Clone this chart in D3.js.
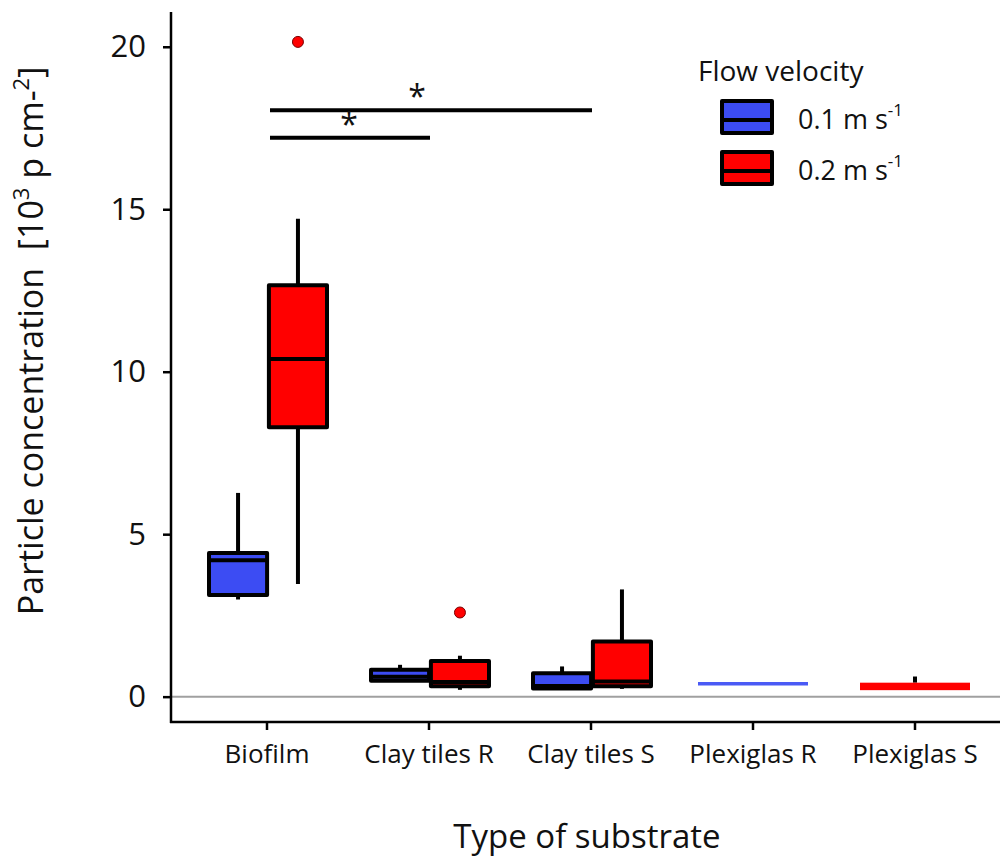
<!DOCTYPE html>
<html>
<head>
<meta charset="utf-8">
<script src="https://cdn.jsdelivr.net/npm/d3@7"></script>
<style>
  html, body { margin: 0; padding: 0; background: #fff; }
  svg { display: block; font-family: "Open Sans", sans-serif; }
  svg text { font-family: "Open Sans", sans-serif; white-space: pre; }
</style>
</head>
<body>
<svg id="chart" width="1000" height="859"></svg>
<script>
// ---- data ----
const categories = ["Biofilm", "Clay tiles R", "Clay tiles S", "Plexiglas R", "Plexiglas S"];
const groups = ["0.1", "0.2"];
const yTicks = [0, 5, 10, 15, 20];
// [whiskerLow, q1, median, q3, whiskerHigh]; null = group absent
const slowBoxes = [
  [2.99, 3.13, 4.20, 4.42, 6.27],
  [0.49, 0.49, 0.61, 0.83, 0.98],
  [0.25, 0.25, 0.33, 0.72, 0.93],
  [0.40, 0.40, 0.40, 0.40, 0.40],
  null
];
const fastBoxes = [
  [3.47, 8.29, 10.39, 12.66, 14.71],
  [0.21, 0.32, 0.45, 1.10, 1.26],
  [0.24, 0.32, 0.47, 1.70, 3.30],
  null,
  [0.20, 0.20, 0.30, 0.43, 0.62]
];
const slowOutliers = [[], [], [], [], []];
const fastOutliers = [[20.15], [2.59], [], [], []];
const sigBrackets = [
  { from: "Biofilm", to: "Clay tiles S", y: 18.05 },
  { from: "Biofilm", to: "Clay tiles R", y: 17.2 }
];
const colors = { "0.1": "#3c4cf3", "0.2": "#ff0000" };
const flatOnly = ["Plexiglas R", "Plexiglas S"]; // drawn without outline

// ---- scales ----
const svg = d3.select("#chart");
const x = d3.scaleBand().domain(categories).range([186, 996]).padding(0);
const y = d3.scaleLinear().domain([-0.78, 21.07]).range([722, 12]);
const inner = d3.scaleBand().domain(groups).range([-58, 60]).paddingInner(0.03);
const cx = c => x(c) + x.bandwidth() / 2;

// zero line
svg.append("line")
  .attr("x1", 171).attr("x2", 1000)
  .attr("y1", y(0)).attr("y2", y(0))
  .attr("stroke", "#a0a0a0").attr("stroke-width", 2);

// axes
const yAxis = d3.axisLeft(y).tickValues(yTicks).tickSize(8).tickPadding(17);
const gy = svg.append("g").attr("transform", "translate(171,0)").call(yAxis)
  .attr("font-family", "'Open Sans', sans-serif");
gy.select(".domain").remove();
gy.append("line").attr("x1", 0).attr("x2", 0).attr("y1", 12).attr("y2", 723)
  .attr("stroke", "#000").attr("stroke-width", 2.5);
gy.selectAll(".tick line").attr("stroke-width", 2.5);
gy.selectAll(".tick text").attr("font-size", 31).attr("fill", "#111");

const xAxis = d3.axisBottom(x).tickSize(8).tickPadding(15);
const gx = svg.append("g").attr("transform", "translate(0,722)").call(xAxis)
  .attr("font-family", "'Open Sans', sans-serif");
gx.select(".domain").remove();
gx.append("line").attr("x1", 170).attr("x2", 1000).attr("y1", 0).attr("y2", 0)
  .attr("stroke", "#000").attr("stroke-width", 2.5);
gx.selectAll(".tick line").attr("stroke-width", 2.5);
gx.selectAll(".tick text").attr("font-size", 26).attr("fill", "#111");

// boxes
function drawSeries(boxes, outliers, g) {
  categories.forEach((c, i) => {
    const b = boxes[i];
    if (!b) return;
    const other = g === "0.1" ? fastBoxes[i] : slowBoxes[i];
    let x0, w;
    if (other) { x0 = cx(c) + inner(g); w = inner.bandwidth(); }
    else { x0 = cx(c) - 55; w = 110; }
    const xm = x0 + w / 2;
    const flat = flatOnly.includes(c);
    const col = colors[g];
    const gg = svg.append("g");
    if (flat) {
      if (b[4] > b[3]) gg.append("line").attr("x1", xm).attr("x2", xm)
        .attr("y1", y(b[4])).attr("y2", y(b[3])).attr("stroke", "#000").attr("stroke-width", 4);
      if (b[3] - b[1] > 0.01) {
        gg.append("rect").attr("x", x0).attr("width", w)
          .attr("y", y(b[3])).attr("height", y(b[1]) - y(b[3])).attr("fill", col);
      } else {
        gg.append("line").attr("x1", x0).attr("x2", x0 + w)
          .attr("y1", y(b[2])).attr("y2", y(b[2])).attr("stroke", "#4a5af5").attr("stroke-width", 3.5);
      }
      return;
    }
    gg.append("line").attr("x1", xm).attr("x2", xm)
      .attr("y1", y(b[4])).attr("y2", y(b[0])).attr("stroke", "#000").attr("stroke-width", 4);
    gg.append("rect").attr("x", x0).attr("width", w)
      .attr("y", y(b[3])).attr("height", Math.max(0, y(b[1]) - y(b[3])))
      .attr("fill", col).attr("stroke", "#000").attr("stroke-width", 4)
      .attr("stroke-linejoin", "round");
    gg.append("line").attr("x1", x0).attr("x2", x0 + w)
      .attr("y1", y(b[2])).attr("y2", y(b[2])).attr("stroke", "#000").attr("stroke-width", 4);
    outliers[i].forEach(v => {
      gg.append("circle").attr("cx", xm).attr("cy", y(v)).attr("r", 5.5)
        .attr("fill", col).attr("stroke", "#7a0000").attr("stroke-width", 1);
    });
  });
}
drawSeries(slowBoxes, slowOutliers, "0.1");
drawSeries(fastBoxes, fastOutliers, "0.2");

// significance brackets
sigBrackets.forEach((s, i) => {
  const x1 = cx(s.from) + 3, x2 = cx(s.to) + 1;
  svg.append("line").attr("x1", x1).attr("x2", x2).attr("y1", y(s.y)).attr("y2", y(s.y))
    .attr("stroke", "#000").attr("stroke-width", 4);
  const fs = 32;
  svg.append("text").attr("x", (x1 + x2) / 2 - (i === 0 ? 14 : 1)).attr("y", y(s.y) - 20 + 0.56 * fs)
    .attr("text-anchor", "middle").attr("font-size", fs).attr("fill", "#111").text("*");
});

// axis titles
svg.append("text").attr("x", 587).attr("y", 848).attr("text-anchor", "middle")
  .attr("font-size", 33).attr("fill", "#111").text("Type of substrate");

const yl = svg.append("text")
  .attr("transform", "translate(43,341) rotate(-90)")
  .attr("text-anchor", "middle").attr("font-size", 34).attr("fill", "#111");
yl.append("tspan").text("Particle concentration  [10");
yl.append("tspan").attr("font-size", 22).attr("dy", -14).text("3");
yl.append("tspan").attr("dy", 14).text(" p cm-");
yl.append("tspan").attr("font-size", 22).attr("dy", -14).text("2");
yl.append("tspan").attr("dy", 14).text("]");

// legend
const lg = svg.append("g");
lg.append("text").attr("x", 698).attr("y", 81).attr("font-size", 28).attr("fill", "#111").text("Flow velocity");
groups.forEach((g, i) => {
  const top = 101 + i * 51;
  lg.append("rect").attr("x", 722).attr("y", top).attr("width", 50).attr("height", 32)
    .attr("fill", colors[g]).attr("stroke", "#000").attr("stroke-width", 4).attr("stroke-linejoin", "round");
  lg.append("line").attr("x1", 722).attr("x2", 772).attr("y1", top + 19).attr("y2", top + 19)
    .attr("stroke", "#000").attr("stroke-width", 4);
  const t = lg.append("text").attr("x", 798).attr("y", top + 28).attr("font-size", 27).attr("fill", "#111");
  t.append("tspan").text(g + " m s");
  t.append("tspan").attr("font-size", 17).attr("dy", -13).text("-1");
});
</script>
</body>
</html>
